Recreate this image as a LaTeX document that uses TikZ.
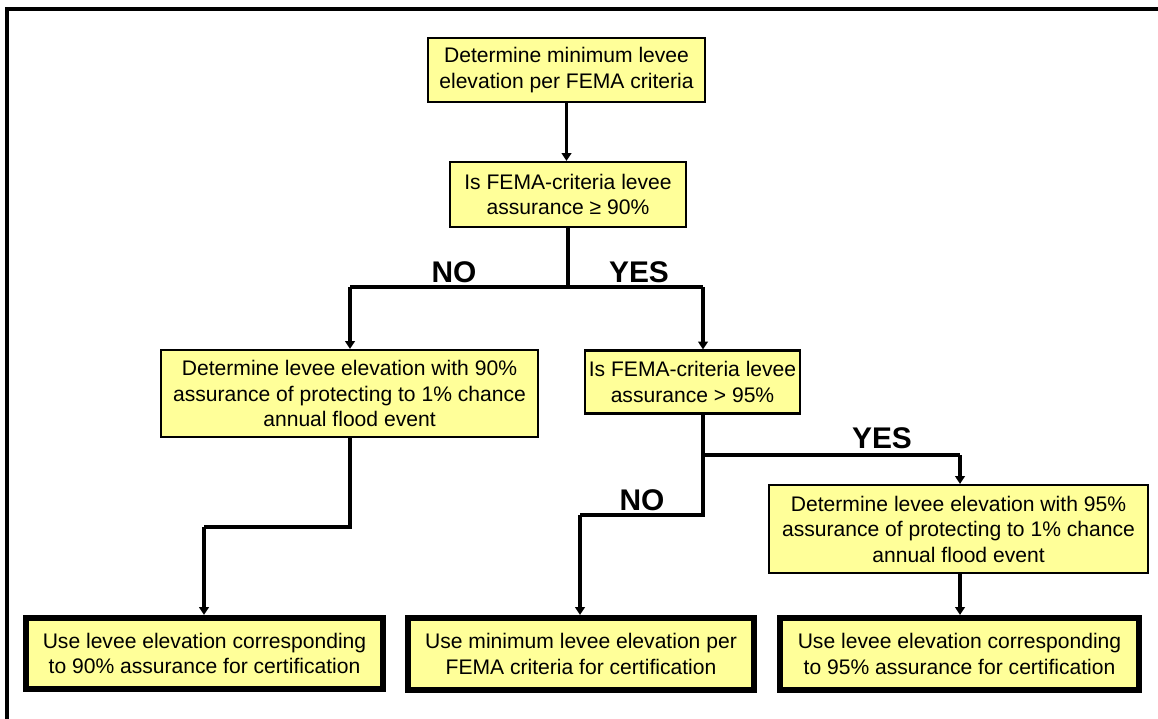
\documentclass[tikz,border=0pt]{standalone}
\usepackage{fontspec}
\setmainfont{Liberation Sans}
\usepackage{tikz}
\definecolor{yellow100}{HTML}{FFFF99}
\usetikzlibrary{arrows.meta}
\tikzstyle{stepbox}=[rectangle, draw=black, fill=yellow100, line width=1.2pt, align=center, inner sep=0pt, font=\fontsize{12}{14.5}\selectfont]
\tikzstyle{endbox}=[stepbox, line width=2.9pt]
\tikzstyle{answer}=[font=\fontsize{17}{17}\selectfont\bfseries, inner sep=0pt]
\tikzstyle{link}=[line width=1.9pt]
\tikzstyle{arrow}=[link, -{Triangle[width=5.5pt,length=4.5pt]}]

\begin{document}
\begin{tikzpicture}[x=0.02cm, y=-0.02cm]
			\useasboundingbox (0,0) rectangle (1158,719);
			\draw[line width=2pt] (7,719) -- (7,9) -- (1158,9);
			\node[stepbox, minimum width=5.54cm, minimum height=1.28cm] (a) at (566.5,70) {Determine minimum levee\\elevation per FEMA criteria};
			\node[stepbox, minimum width=4.72cm, minimum height=1.30cm] (b) at (568,194.5) {Is FEMA-criteria levee\\assurance ≥ 90\%};
			\node[stepbox, minimum width=7.54cm, minimum height=1.74cm] (c) at (349.5,393.5) {Determine levee elevation with 90\%\\assurance of protecting to 1\% chance\\annual flood event};
			\node[stepbox, minimum width=4.30cm, minimum height=1.26cm] (d) at (692.5,382) {Is FEMA-criteria levee\\assurance > 95\%};
			\node[stepbox, minimum width=7.58cm, minimum height=1.76cm] (e) at (958.5,529) {Determine levee elevation with 95\%\\assurance of protecting to 1\% chance\\annual flood event};
			\node[endbox, minimum width=7.16cm, minimum height=1.44cm] (f1) at (204.5,653.5) {Use levee elevation corresponding\\to 90\% assurance for certification};
			\node[endbox, minimum width=6.94cm, minimum height=1.46cm] (f2) at (581,654) {Use minimum levee elevation per\\FEMA criteria for certification};
			\node[endbox, minimum width=7.20cm, minimum height=1.46cm] (f3) at (959.5,654) {Use levee elevation corresponding\\to 95\% assurance for certification};
			\foreach \f in {f1,f2,f3}
				\draw[line width=0.7pt] ([shift={(5,5)}]\f.north west) rectangle ([shift={(-5,-5)}]\f.south east);
			\node[answer] (no1) at (454,272) {NO};
			\node[answer] (yes1) at (639,272) {YES};
			\node[answer] (no2) at (642,500) {NO};
			\node[answer] (yes2) at (882,438) {YES};
			\coordinate (j1) at (568,287);
			\coordinate (jl) at (350,287);
			\coordinate (jr) at (703,287);
			\coordinate (k1) at (703,455);
			\coordinate (k2) at (703,515);
			\coordinate (k3) at (580,515);
			\coordinate (k4) at (960,455);
			\coordinate (m1) at (350,527);
			\coordinate (m2) at (204,527);
			\draw[arrow] (a.south) -- (a.south |- b.north);
			\draw[link] (b.south) -- (j1);
			\draw[link] (jl) -- (jr);
			\draw[arrow] (jl) -- (jl |- c.north);
			\draw[arrow] (jr) -- (jr |- d.north);
			\draw[link] (k1 |- d.south) -- (k2) -- (k3);
			\draw[arrow] (k3) -- (k3 |- f2.north);
			\draw[link] (k1) -- (k4);
			\draw[arrow] (k4) -- (k4 |- e.north);
			\draw[arrow] (k4 |- e.south) -- (k4 |- f3.north);
			\draw[link] (m1 |- c.south) -- (m1) -- (m2);
			\draw[arrow] (m2) -- (m2 |- f1.north);
		\end{tikzpicture}
\end{document}
